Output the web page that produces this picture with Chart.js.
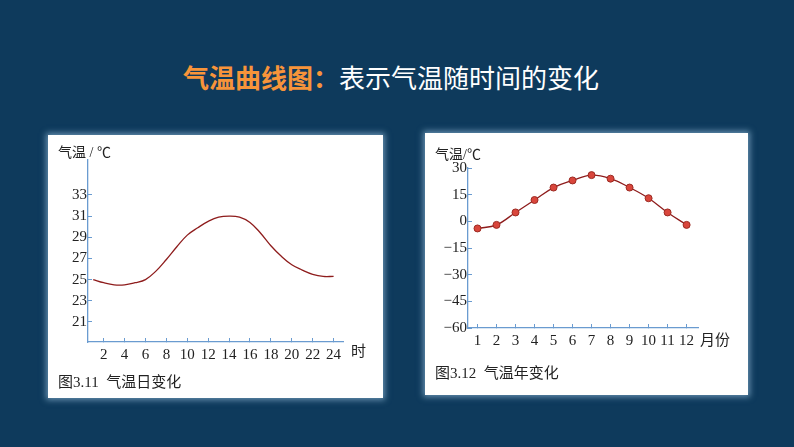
<!DOCTYPE html><html><head><meta charset="utf-8">
<script src="https://cdn.jsdelivr.net/npm/chart.js@4"></script>
<style>
body{margin:0;width:794px;height:447px;background:#0e3a5c;position:relative;overflow:hidden;font-family:"Noto Sans CJK SC",sans-serif}
.t{position:absolute;top:58px;left:-6px;width:794px;text-align:center;font-size:26px;color:#fff}
.t b{color:#f7943a}
.p{position:absolute;background:#fff;box-shadow:0 0 6px 2px rgba(160,200,230,.6)}
.l{position:absolute;font-size:13px;color:#222;font-family:"Liberation Serif","Noto Sans CJK SC",serif}
canvas{position:absolute;left:0;top:0}
</style></head><body>
<div class="t"><b>气温曲线图：</b>表示气温随时间的变化</div>
<div class="p" style="left:48px;top:135px;width:335px;height:263px">
<canvas id="c1" width="335" height="263"></canvas>
<div class="l" style="left:10px;top:6px;font-size:14px">气温 / ℃</div>
<div class="l" style="left:303px;top:204px;font-size:15px">时</div>
<div class="l" style="left:10px;top:235px;font-size:15px">图3.11&nbsp; 气温日变化</div>
</div>
<div class="p" style="left:425px;top:133px;width:323px;height:262px">
<canvas id="c2" width="323" height="262"></canvas>
<div class="l" style="left:10px;top:10px;font-size:14px">气温/℃</div>
<div class="l" style="left:275px;top:195px;font-size:15px">月份</div>
<div class="l" style="left:10px;top:228px;font-size:15px">图3.12&nbsp; 气温年变化</div>
</div>
<script>
const hours=[1,2,3,4,5,6,7,8,9,10,11,12,13,14,15,16,17,18,19,20,21,22,23,24];
const dayTemp=[25,24.7,24.5,24.5,24.7,25,25.8,26.9,28.1,29.2,29.9,30.5,30.9,31,30.9,30.4,29.4,28.2,27.2,26.4,25.9,25.5,25.3,25.3];
const dayYTicks=[21,23,25,27,29,31,33];
const dayXTicks=[2,4,6,8,10,12,14,16,18,20,22,24];
const months=[1,2,3,4,5,6,7,8,9,10,11,12];
const monthTemp=[-4,-2,5,12,19,23,26,24,19,13,5,-2];
const yearYTicks=[-60,-45,-30,-15,0,15,30];
const axisC='#6a9bd0',font={family:'Liberation Serif',size:15};
function mk(id,xs,ys,xmin,xmax,ymin,ymax,xt,yt,pad,yw,xh,pts){
 new Chart(document.getElementById(id),{type:'line',
 data:{datasets:[{data:xs.map((x,i)=>({x,y:ys[i]})),borderColor:'#8e1c1c',borderWidth:1.3,tension:0.4,
  pointRadius:pts?3.5:0,pointBackgroundColor:'#d9463c',pointBorderColor:'#9b2a22',pointBorderWidth:1}]},
 options:{responsive:false,animation:false,layout:{padding:pad},plugins:{legend:{display:false},tooltip:{enabled:false}},
 scales:{x:{type:'linear',min:xmin,max:xmax,afterBuildTicks:s=>{s.ticks=xt.map(v=>({value:v}))},afterFit:s=>{s.height=xh},
   border:{color:axisC,width:1.3},grid:{drawOnChartArea:false,color:axisC,tickLength:-4},ticks:{color:'#222',font,padding:8,maxRotation:0,autoSkip:false}},
  y:{min:ymin,max:ymax,afterBuildTicks:s=>{s.ticks=yt.map(v=>({value:v}))},afterFit:s=>{s.width=yw},
   border:{color:axisC,width:1.3},grid:{drawOnChartArea:false,color:axisC,tickLength:-4},ticks:{color:'#222',font,padding:5,callback:v=>String(v).replace('-','−')}}}}});
}
mk('c1',hours,dayTemp,0.5,24.9,19.1,36.3,dayXTicks,dayYTicks,{left:0,top:25,right:40,bottom:0},40,56,false);
mk('c2',months,monthTemp,0.5,12.6,-60,30,months,yearYTicks,{left:0,top:35,right:50,bottom:0},43,67,true);
</script></body></html>
